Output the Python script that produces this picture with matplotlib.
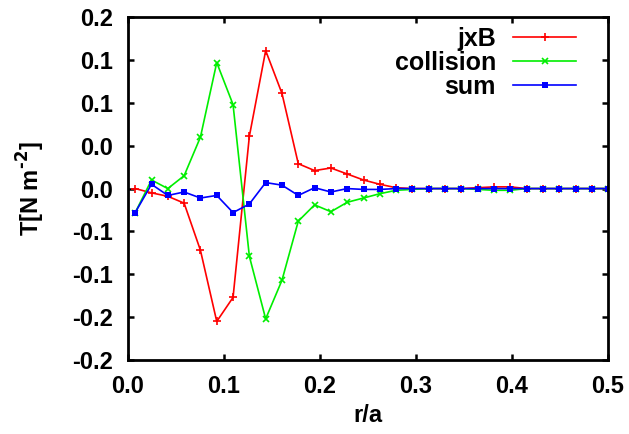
import matplotlib
matplotlib.use("Agg")
import matplotlib.pyplot as plt

plt.rcParams["font.family"] = ["Liberation Sans", "DejaVu Sans"]
plt.rcParams["font.weight"] = "bold"
plt.rcParams["mathtext.default"] = "bf"
plt.rcParams["axes.unicode_minus"] = False

# r/a grid (30 radial points)
R_A = [0.0075 + i * 0.01699 for i in range(30)]

JXB = [0.000, -0.005, -0.009, -0.017, -0.072, -0.155, -0.127, 0.061, 0.161, 0.111,
       0.029, 0.021, 0.024, 0.017, 0.010, 0.005, 0.001, 0.000, 0.000, 0.000,
       0.000, 0.001, 0.002, 0.002, 0.000, 0.000, 0.000, 0.000, 0.000, 0.000]
COLLISION = [-0.028, 0.010, 0.000, 0.015, 0.060, 0.147, 0.098, -0.079, -0.152, -0.107,
             -0.038, -0.019, -0.027, -0.016, -0.011, -0.006, -0.002, -0.001, 0.000, 0.000,
             0.000, -0.001, -0.002, -0.002, 0.000, 0.000, 0.000, 0.000, 0.000, 0.000]
SUM = [-0.028, 0.005, -0.008, -0.004, -0.011, -0.008, -0.028, -0.018, 0.007, 0.004,
       -0.008, 0.001, -0.004, 0.000, -0.001, -0.001, 0.000, 0.000, 0.000, 0.000,
       0.000, 0.000, 0.000, 0.000, 0.000, 0.000, 0.000, 0.000, 0.000, 0.000]

X_TICKS = [0.0, 0.1, 0.2, 0.3, 0.4, 0.5]
X_TICK_LABELS = ["0.0", "0.1", "0.2", "0.3", "0.4", "0.5"]
Y_TICKS = [0.2, 0.15, 0.1, 0.05, 0.0, -0.05, -0.1, -0.15, -0.2]
Y_TICK_LABELS = ["0.2", "0.1", "0.1", "0.0", "0.0", "-0.1", "-0.1", "-0.2", "-0.2"]

FS = 17

fig = plt.figure(figsize=(6.29, 4.34), dpi=100)
ax = fig.add_axes([0.2035, 0.1705, 0.763, 0.790])

ax.plot(R_A, JXB, color="#ff0000", lw=1.2, marker="+", ms=6, mew=1.2, label="jxB")
ax.plot(R_A, COLLISION, color="#00ee00", lw=1.2, marker="x", ms=4.5, mew=1.2, label="collision")
ax.plot(R_A, SUM, color="#0000ff", lw=1.2, marker="s", ms=4.2, mew=0, label="sum")

ax.set_xlim(0, 0.5)
ax.set_ylim(-0.2, 0.2)
ax.set_xticks(X_TICKS)
ax.set_xticklabels(X_TICK_LABELS)
ax.set_yticks(Y_TICKS)
ax.set_yticklabels(Y_TICK_LABELS)
ax.tick_params(direction="in", length=4, width=1.8, labelsize=FS, top=True, right=True)
ax.tick_params(axis="x", pad=11)
ax.tick_params(axis="y", pad=11)
for s in ax.spines.values():
    s.set_linewidth(2.0)

ax.set_xlabel("r/a", fontsize=FS, fontweight="bold", labelpad=4)
ax.set_ylabel(r"T[N m$^{\text{-2}}$]", fontsize=FS, fontweight="bold", labelpad=18)

ax.legend(loc="upper right", frameon=False, markerfirst=False, numpoints=1,
          fontsize=FS + 1, handlelength=2.5, handletextpad=0.7, labelspacing=0.0,
          borderaxespad=0.0, bbox_to_anchor=(0.954, 1.0))

fig.savefig("out.png", dpi=100)
